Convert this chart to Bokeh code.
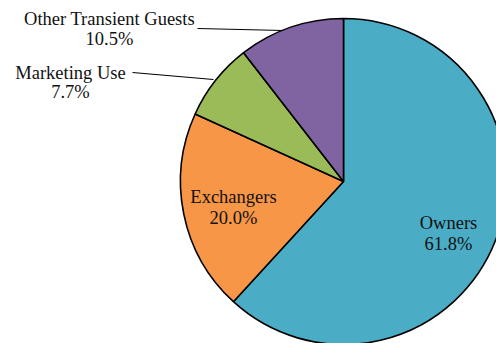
import math
from bokeh.plotting import figure
from bokeh.models import Range1d, ColumnDataSource
from bokeh.core.properties import value
from bokeh.embed import file_html
from bokeh.resources import INLINE

# Data
categories = ["Owners", "Exchangers", "Marketing Use", "Other Transient Guests"]
shares = [61.8, 20.0, 7.7, 10.5]
pct_labels = ["61.8%", "20.0%", "7.7%", "10.5%"]
colors = ["#4BACC6", "#F79646", "#9BBB59", "#8064A2"]

W, H = 496, 343
p = figure(width=W, height=H, output_backend="svg", toolbar_location=None,
           x_range=Range1d(0, W), y_range=Range1d(0, H), min_border=0)
p.axis.visible = False
p.grid.visible = False
p.outline_line_color = None
p.background_fill_color = "white"
p.border_fill_color = "white"

cx, cy, r = 343, H - 181, 163

# slices clockwise from 12 o'clock
total = sum(shares)
starts, ends = [], []
ang = math.pi / 2
for s in shares:
    a2 = ang - 2 * math.pi * s / total
    starts.append(a2)
    ends.append(ang)
    ang = a2

src = ColumnDataSource(dict(start=starts, end=ends, color=colors, cat=categories))
p.wedge(x=cx, y=cy, radius=r, start_angle="start", end_angle="end",
        direction="anticlock", fill_color="color", line_color="black",
        line_width=1.6, source=src)

font = value("Liberation Serif")
# label layout (pixel coords from top)
layout = {
    "Owners": (448, 222, 243),
    "Exchangers": (233, 196, 217),
    "Marketing Use": (70, 72, 91),
    "Other Transient Guests": (109, 18, 38),
}
for cat, pct in zip(categories, pct_labels):
    x, y1, y2 = layout[cat]
    p.text(x=[x], y=[H - y1], text=[cat], text_font=font, text_font_size="18.5px",
           text_align="center", text_baseline="middle", text_color="#111111")
    p.text(x=[x], y=[H - y2], text=[pct], text_font=font, text_font_size="18.5px",
           text_align="center", text_baseline="middle", text_color="#111111")

# leader lines
p.line(x=[197, 283], y=[H - 28, H - 30], line_color="black", line_width=1.2)
p.line(x=[132, 213], y=[H - 72, H - 79], line_color="black", line_width=1.2)

open("out.html", "w").write(file_html(p, INLINE))
